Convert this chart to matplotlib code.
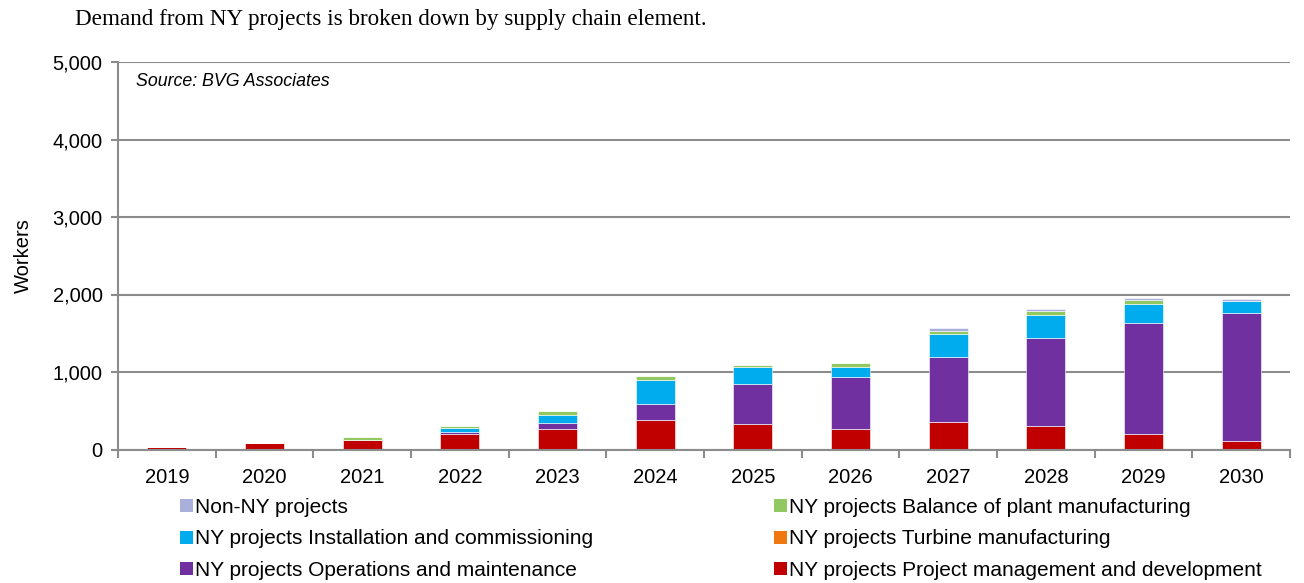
import matplotlib
matplotlib.use("Agg")
import matplotlib.pyplot as plt
import numpy as np
from matplotlib.patches import Patch

years = ["2019", "2020", "2021", "2022", "2023", "2024", "2025", "2026", "2027", "2028", "2029", "2030"]

# Workers by supply chain element (stacked bottom to top)
pm_dev = [30, 80, 125, 205, 270, 375, 325, 270, 350, 300, 200, 105]
turbine = [0, 0, 0, 0, 0, 0, 0, 0, 0, 0, 0, 0]
ops_maint = [0, 0, 0, 25, 75, 215, 520, 665, 840, 1145, 1435, 1660]
install = [0, 0, 0, 45, 105, 305, 220, 125, 300, 295, 245, 145]
bop = [0, 0, 30, 30, 45, 50, 25, 55, 45, 50, 50, 0]
non_ny = [0, 0, 0, 0, 0, 0, 0, 0, 30, 25, 30, 30]

labels = {
    "non_ny": "Non-NY projects",
    "bop": "NY projects Balance of plant manufacturing",
    "install": "NY projects Installation and commissioning",
    "turbine": "NY projects Turbine manufacturing",
    "ops": "NY projects Operations and maintenance",
    "pm": "NY projects Project management and development",
}
colors = {
    "pm": "#C00000",
    "turbine": "#F07810",
    "ops": "#7030A0",
    "install": "#00ACEE",
    "bop": "#92C862",
    "non_ny": "#A9B0DC",
}

plt.rcParams["font.family"] = ["Liberation Sans", "DejaVu Sans"]

fig = plt.figure(figsize=(13.04, 5.83), dpi=100)
ax = fig.add_axes([118 / 1304, 1 - 449.5 / 583, (1290 - 118) / 1304, (449.5 - 62) / 583])

x = np.arange(len(years))
series = [("pm", pm_dev), ("turbine", turbine), ("ops", ops_maint),
          ("install", install), ("bop", bop), ("non_ny", non_ny)]
bottom = np.zeros(len(years))
for key, vals in series:
    v = np.array(vals, dtype=float)
    ax.bar(x, v, width=0.4, bottom=bottom, color=colors[key],
           edgecolor="#ffffff", linewidth=0.4, zorder=3)
    bottom += v

ax.set_xlim(-0.5, len(years) - 0.5)
ax.set_ylim(0, 5000)
ax.set_yticks([0, 1000, 2000, 3000, 4000, 5000])
ax.set_yticklabels(["0", "1,000", "2,000", "3,000", "4,000", "5,000"], fontsize=14.5)
ax.set_xticks(x)
ax.set_xticklabels(years, fontsize=14.5)
ax.set_xticks(np.arange(-0.5, len(years)), minor=True)
ax.tick_params(axis="x", which="major", length=0, pad=13)
ax.tick_params(axis="x", which="minor", length=6, width=1.5, color="#8c8c8c")
ax.tick_params(axis="y", length=5, width=1.5, color="#8c8c8c", pad=6)
ax.yaxis.grid(True, color="#8c8c8c", linewidth=1.5, zorder=0)
for s in ["top", "right"]:
    ax.spines[s].set_visible(False)
for s in ["left", "bottom"]:
    ax.spines[s].set_color("#8c8c8c")
    ax.spines[s].set_linewidth(1.5)
ax.spines["bottom"].set_zorder(4)

ax.set_ylabel("Workers", fontsize=14.5, labelpad=14)
fig.text(136 / 1304, 1 - 82 / 583, "Source: BVG Associates",
         fontsize=12.8, style="italic", va="center", ha="left")

fig.text(75 / 1304, 1 - 20 / 583, "Demand from NY projects is broken down by supply chain element.",
         family=["Liberation Serif", "DejaVu Serif"], fontsize=16.7, va="center", ha="left")

left_keys = ["non_ny", "install", "ops"]
right_keys = ["bop", "turbine", "pm"]
for keys, xpos in [(left_keys, 180 / 1304), (right_keys, 774 / 1304)]:
    handles = [Patch(facecolor=colors[k], edgecolor="none", label=labels[k]) for k in keys]
    fig.legend(handles=handles, loc="upper left", bbox_to_anchor=(xpos, 1 - 498 / 583),
               ncol=1, frameon=False, fontsize=15, handlelength=0.6, handleheight=0.6,
               handletextpad=0.1, labelspacing=0.6, borderpad=0, borderaxespad=0)

fig.savefig("out.png", dpi=100)
